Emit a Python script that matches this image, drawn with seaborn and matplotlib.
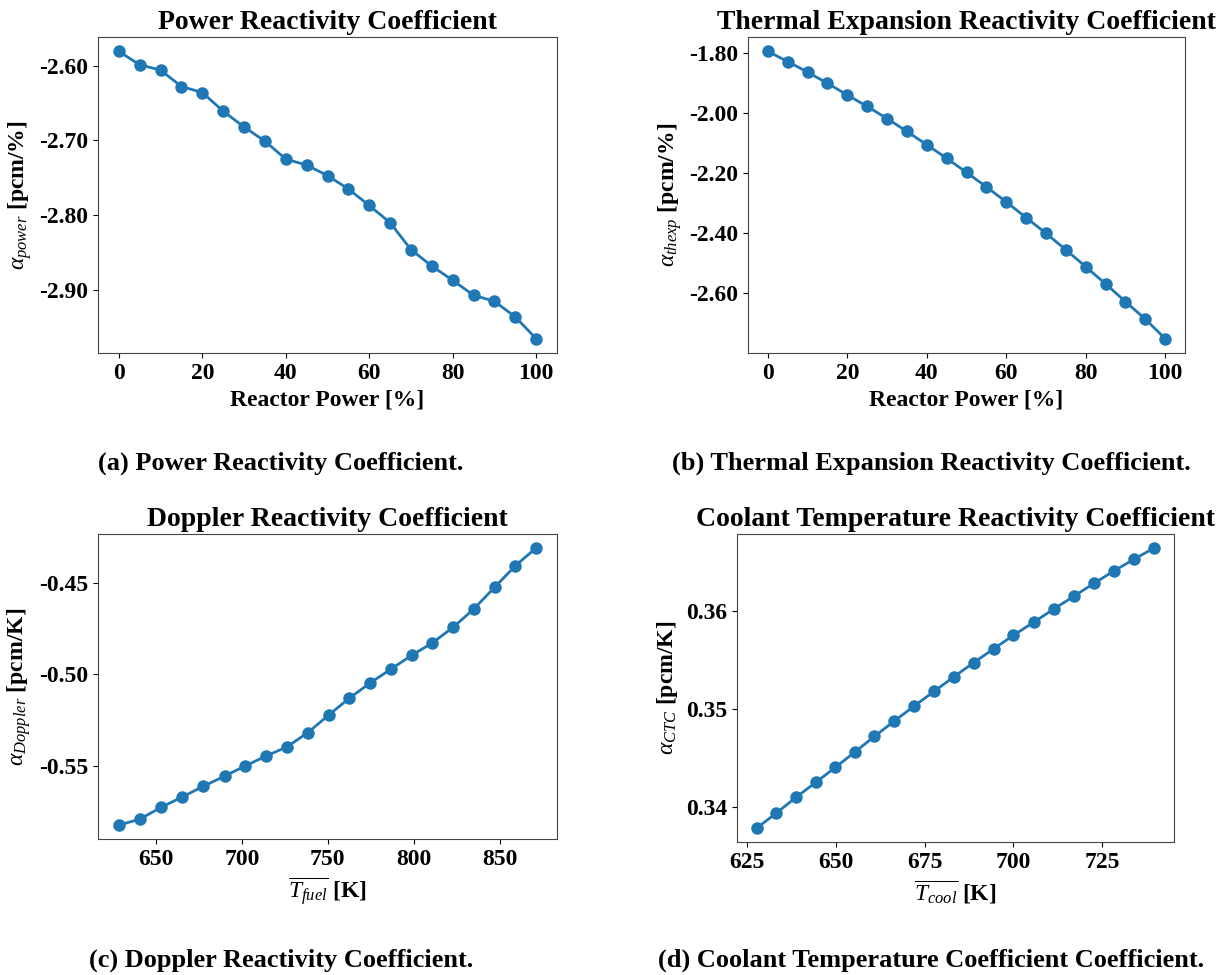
import numpy as np
import pandas as pd
import matplotlib
matplotlib.use('Agg')
import matplotlib.pyplot as plt
from matplotlib.ticker import MultipleLocator, FormatStrFormatter
import seaborn as sns

sns.set_style('ticks')
plt.rcParams['font.family'] = ['Liberation Serif', 'DejaVu Serif']
plt.rcParams['font.weight'] = 'bold'
plt.rcParams['mathtext.fontset'] = 'custom'
plt.rcParams['mathtext.it'] = 'Liberation Serif:italic:normal'
plt.rcParams['mathtext.rm'] = 'Liberation Serif:normal'
plt.rcParams['axes.unicode_minus'] = False
plt.rcParams['text.color'] = 'black'
plt.rcParams['axes.labelcolor'] = 'black'
plt.rcParams['xtick.color'] = 'black'
plt.rcParams['ytick.color'] = 'black'

# reactor power [%]
power = [0, 5, 10, 15, 20, 25, 30, 35, 40, 45, 50, 55, 60, 65, 70, 75, 80, 85, 90, 95, 100]

alpha_power = [-2.581, -2.599, -2.606, -2.628, -2.636, -2.661, -2.682, -2.701, -2.725, -2.733, -2.747,
               -2.765, -2.787, -2.810, -2.846, -2.868, -2.887, -2.907, -2.915, -2.936, -2.965]

alpha_thexp = [-1.796, -1.830, -1.865, -1.902, -1.941, -1.979, -2.019, -2.062, -2.106, -2.151, -2.198,
               -2.246, -2.296, -2.348, -2.400, -2.455, -2.511, -2.568, -2.627, -2.685, -2.750]

# mean fuel temperature [K]
t_fuel = [628.4, 640.6, 652.9, 665.4, 677.6, 689.9, 701.6, 714.0, 726.3, 738.3, 750.4,
          762.5, 774.7, 786.7, 798.7, 810.7, 823.0, 835.0, 847.1, 859.1, 871.2]
alpha_doppler = [-0.5825, -0.5792, -0.5728, -0.5670, -0.5612, -0.5557, -0.5502, -0.5447, -0.5396, -0.5319, -0.5223,
                 -0.5130, -0.5046, -0.4971, -0.4896, -0.4828, -0.4741, -0.4641, -0.4522, -0.4405, -0.4307]

# mean coolant temperature [K]
t_cool = [627.8, 633.3, 638.8, 644.4, 649.9, 655.4, 660.9, 666.5, 672.1, 677.7, 683.3,
          688.8, 694.4, 700.0, 705.8, 711.4, 717.1, 722.7, 728.3, 733.9, 739.6]
alpha_ctc = [0.33789, 0.33942, 0.34102, 0.34255, 0.34408, 0.34565, 0.34724, 0.34881, 0.35034, 0.35184, 0.35333,
             0.35476, 0.35616, 0.35755, 0.35891, 0.36024, 0.36156, 0.36286, 0.36412, 0.36531, 0.36646]

W, H = 1231, 975
fig = plt.figure(figsize=(W / 100, H / 100), dpi=100)


def box(l, r, t, b):
    return [l / W, 1 - b / H, (r - l) / W, (b - t) / H]


def panel(rect, x, y, title, xlabel, ylabel, xstep, ystep):
    ax = fig.add_axes(rect)
    df = pd.DataFrame({'x': x, 'y': y})
    sns.lineplot(data=df, x='x', y='y', ax=ax, color='#1f77b4', linewidth=2,
                 marker='o', markersize=9, markeredgewidth=0)
    ax.set_title(title, fontsize=20, fontweight='bold', color='black')
    ax.set_xlabel(xlabel, fontsize=17, fontweight='bold')
    ax.set_ylabel(ylabel, fontsize=17, fontweight='bold')
    ax.xaxis.set_major_locator(MultipleLocator(xstep))
    ax.yaxis.set_major_locator(MultipleLocator(ystep))
    ax.yaxis.set_major_formatter(FormatStrFormatter('%.2f'))
    ax.tick_params(labelsize=17)
    for lab in ax.get_xticklabels() + ax.get_yticklabels():
        lab.set_fontweight('bold')
    for s in ax.spines.values():
        s.set_color('#444444')
    return ax


panel(box(98, 557, 37, 353), power, alpha_power, 'Power Reactivity Coefficient',
      'Reactor Power [%]', r'$\alpha_{power}$ [pcm/%]', 20, 0.1)
panel(box(748, 1185, 37, 353), power, alpha_thexp, 'Thermal Expansion Reactivity Coefficient',
      'Reactor Power [%]', r'$\alpha_{thexp}$ [pcm/%]', 20, 0.2)
panel(box(98, 557, 534, 839), t_fuel, alpha_doppler, 'Doppler Reactivity Coefficient',
      r'$\overline{T_{fuel}}$ [K]', r'$\alpha_{Doppler}$ [pcm/K]', 50, 0.05)
panel(box(737, 1174, 534, 842), t_cool, alpha_ctc, 'Coolant Temperature Reactivity Coefficient',
      r'$\overline{T_{cool}}$ [K]', r'$\alpha_{CTC}$ [pcm/K]', 25, 0.01)

captions = ['(a) Power Reactivity Coefficient.', '(b) Thermal Expansion Reactivity Coefficient.',
            '(c) Doppler Reactivity Coefficient.', '(d) Coolant Temperature Coefficient Coefficient.']
cap_x = [281, 931, 281, 931]
cap_y = [463, 463, 960, 960]
for c, cx, cy in zip(captions, cap_x, cap_y):
    fig.text(cx / W, 1 - cy / H, c, ha='center', va='center', fontsize=19, fontweight='bold')

fig.savefig('out.png', dpi=100)
